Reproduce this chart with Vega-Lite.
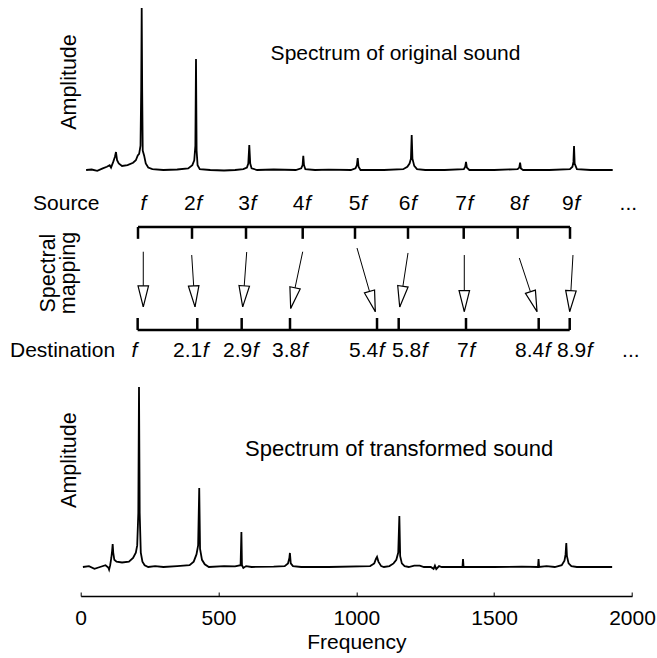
{
  "$schema": "https://vega.github.io/schema/vega-lite/v6.json",
  "width": 551.3,
  "height": 596,
  "autosize": {"type": "none"},
  "padding": {"left": 80.7, "right": 25, "top": 0, "bottom": 62},
  "background": "white",
  "config": {
    "view": {"stroke": null},
    "font": "Liberation Sans",
    "text": {"font": "Liberation Sans", "fontSize": 21, "color": "black"}
  },
  "datasets": {
    "top": [
      {"freq": 19.6, "amp": 0.0}, {"freq": 40, "amp": 0.003}, {"freq": 60, "amp": -0.005}, {"freq": 80, "amp": 0.01},
      {"freq": 95, "amp": 0.02}, {"freq": 105, "amp": 0.03}, {"freq": 110, "amp": 0.015}, {"freq": 118, "amp": 0.05},
      {"freq": 124, "amp": 0.08}, {"freq": 128, "amp": 0.111}, {"freq": 132, "amp": 0.06}, {"freq": 138, "amp": 0.04},
      {"freq": 150, "amp": 0.025}, {"freq": 170, "amp": 0.03}, {"freq": 190, "amp": 0.045}, {"freq": 200, "amp": 0.06},
      {"freq": 207, "amp": 0.09}, {"freq": 212, "amp": 0.1}, {"freq": 217, "amp": 0.15}, {"freq": 219.5, "amp": 0.5},
      {"freq": 221.3, "amp": 1.0}, {"freq": 223, "amp": 0.5}, {"freq": 225, "amp": 0.12}, {"freq": 230, "amp": 0.09},
      {"freq": 236, "amp": 0.04}, {"freq": 245, "amp": 0.015}, {"freq": 260, "amp": 0.005}, {"freq": 300, "amp": 0.0},
      {"freq": 350, "amp": 0.003}, {"freq": 390, "amp": 0.01}, {"freq": 405, "amp": 0.03}, {"freq": 412, "amp": 0.06},
      {"freq": 416, "amp": 0.15}, {"freq": 418.3, "amp": 0.685}, {"freq": 420.5, "amp": 0.12}, {"freq": 424, "amp": 0.03},
      {"freq": 432, "amp": 0.005}, {"freq": 470, "amp": 0.0}, {"freq": 520, "amp": -0.003}, {"freq": 560, "amp": 0.0},
      {"freq": 590, "amp": 0.005}, {"freq": 603, "amp": 0.015}, {"freq": 608, "amp": 0.04}, {"freq": 611.6, "amp": 0.154},
      {"freq": 615, "amp": 0.04}, {"freq": 620, "amp": 0.01}, {"freq": 640, "amp": 0.0}, {"freq": 700, "amp": 0.003},
      {"freq": 780, "amp": 0.0}, {"freq": 800, "amp": 0.01}, {"freq": 805, "amp": 0.03}, {"freq": 807.5, "amp": 0.088},
      {"freq": 810, "amp": 0.03}, {"freq": 815, "amp": 0.005}, {"freq": 850, "amp": 0.0}, {"freq": 900, "amp": 0.002},
      {"freq": 980, "amp": 0.0}, {"freq": 997, "amp": 0.01}, {"freq": 1002, "amp": 0.03}, {"freq": 1004.9, "amp": 0.074},
      {"freq": 1008, "amp": 0.02}, {"freq": 1015, "amp": 0.0}, {"freq": 1100, "amp": 0.0}, {"freq": 1170, "amp": 0.005},
      {"freq": 1185, "amp": 0.02}, {"freq": 1193, "amp": 0.04}, {"freq": 1198, "amp": 0.07}, {"freq": 1200.8, "amp": 0.216},
      {"freq": 1203.5, "amp": 0.07}, {"freq": 1210, "amp": 0.025}, {"freq": 1220, "amp": 0.005}, {"freq": 1250, "amp": 0.0},
      {"freq": 1320, "amp": 0.0}, {"freq": 1390, "amp": 0.005}, {"freq": 1395, "amp": 0.02}, {"freq": 1397.8, "amp": 0.05},
      {"freq": 1401, "amp": 0.015}, {"freq": 1410, "amp": 0.0}, {"freq": 1500, "amp": 0.0}, {"freq": 1585, "amp": 0.005},
      {"freq": 1591, "amp": 0.015}, {"freq": 1594, "amp": 0.045}, {"freq": 1597, "amp": 0.01}, {"freq": 1605, "amp": 0.0},
      {"freq": 1700, "amp": 0.0}, {"freq": 1775, "amp": 0.005}, {"freq": 1784, "amp": 0.02}, {"freq": 1787.5, "amp": 0.05},
      {"freq": 1789.7, "amp": 0.148}, {"freq": 1792, "amp": 0.04}, {"freq": 1800, "amp": 0.005}, {"freq": 1850, "amp": 0.0},
      {"freq": 1930, "amp": 0.0}
    ],
    "bottom": [
      {"freq": 8, "amp": 0.0}, {"freq": 30, "amp": 0.005}, {"freq": 50, "amp": -0.01}, {"freq": 70, "amp": 0.0},
      {"freq": 90, "amp": 0.01}, {"freq": 100, "amp": -0.003}, {"freq": 103, "amp": -0.015}, {"freq": 107, "amp": 0.01},
      {"freq": 111, "amp": 0.05}, {"freq": 114, "amp": 0.09}, {"freq": 116, "amp": 0.128}, {"freq": 118, "amp": 0.08},
      {"freq": 122, "amp": 0.04}, {"freq": 130, "amp": 0.03}, {"freq": 150, "amp": 0.025}, {"freq": 175, "amp": 0.03},
      {"freq": 190, "amp": 0.05}, {"freq": 200, "amp": 0.08}, {"freq": 205, "amp": 0.12}, {"freq": 209, "amp": 0.3},
      {"freq": 211.5, "amp": 1.0}, {"freq": 214, "amp": 0.3}, {"freq": 218, "amp": 0.08}, {"freq": 224, "amp": 0.03},
      {"freq": 232, "amp": 0.01}, {"freq": 245, "amp": 0.0}, {"freq": 270, "amp": 0.005}, {"freq": 300, "amp": 0.0},
      {"freq": 350, "amp": 0.005}, {"freq": 395, "amp": 0.01}, {"freq": 410, "amp": 0.03}, {"freq": 420, "amp": 0.07},
      {"freq": 426, "amp": 0.12}, {"freq": 430, "amp": 0.439}, {"freq": 433, "amp": 0.1}, {"freq": 440, "amp": 0.04},
      {"freq": 450, "amp": 0.015}, {"freq": 465, "amp": 0.0}, {"freq": 520, "amp": 0.005}, {"freq": 560, "amp": 0.003},
      {"freq": 580, "amp": 0.01}, {"freq": 583, "amp": 0.194}, {"freq": 585, "amp": 0.01}, {"freq": 590, "amp": -0.005},
      {"freq": 600, "amp": 0.005}, {"freq": 620, "amp": 0.0}, {"freq": 700, "amp": 0.002}, {"freq": 740, "amp": 0.005},
      {"freq": 752, "amp": 0.02}, {"freq": 757, "amp": 0.05}, {"freq": 759, "amp": 0.078}, {"freq": 762, "amp": 0.02},
      {"freq": 770, "amp": 0.005}, {"freq": 800, "amp": 0.0}, {"freq": 900, "amp": 0.0}, {"freq": 1050, "amp": 0.005},
      {"freq": 1065, "amp": 0.02}, {"freq": 1071, "amp": 0.045}, {"freq": 1075, "amp": 0.056}, {"freq": 1080, "amp": 0.03},
      {"freq": 1090, "amp": 0.005}, {"freq": 1100, "amp": 0.0}, {"freq": 1120, "amp": 0.005}, {"freq": 1135, "amp": 0.02},
      {"freq": 1145, "amp": 0.04}, {"freq": 1152, "amp": 0.08}, {"freq": 1156, "amp": 0.283}, {"freq": 1159, "amp": 0.06},
      {"freq": 1165, "amp": 0.02}, {"freq": 1175, "amp": 0.005}, {"freq": 1190, "amp": 0.0}, {"freq": 1210, "amp": 0.008},
      {"freq": 1230, "amp": 0.008}, {"freq": 1245, "amp": 0.0}, {"freq": 1270, "amp": 0.0}, {"freq": 1280, "amp": -0.01},
      {"freq": 1285, "amp": 0.008}, {"freq": 1290, "amp": -0.012}, {"freq": 1300, "amp": 0.005}, {"freq": 1310, "amp": 0.0},
      {"freq": 1385, "amp": 0.0}, {"freq": 1387, "amp": 0.044}, {"freq": 1389, "amp": 0.0}, {"freq": 1500, "amp": 0.0},
      {"freq": 1600, "amp": 0.002}, {"freq": 1659, "amp": 0.0}, {"freq": 1661, "amp": 0.044}, {"freq": 1663, "amp": 0.0},
      {"freq": 1690, "amp": 0.005}, {"freq": 1720, "amp": 0.0}, {"freq": 1745, "amp": 0.01}, {"freq": 1755, "amp": 0.035},
      {"freq": 1759, "amp": 0.07}, {"freq": 1761.6, "amp": 0.133}, {"freq": 1764, "amp": 0.06}, {"freq": 1770, "amp": 0.02},
      {"freq": 1780, "amp": 0.005}, {"freq": 1800, "amp": 0.0}, {"freq": 1928, "amp": 0.0}
    ],
    "brackets": [
      {"freq": 207.9, "freq2": 1775.1, "lvl": 1},
      {"freq": 206.6, "freq2": 1774, "lvl": 0}
    ],
    "ticks": [
      {"freq": 207.9, "lvl": 1, "lvl2": 0.885}, {"freq": 403.8, "lvl": 1, "lvl2": 0.885},
      {"freq": 599.7, "lvl": 1, "lvl2": 0.885}, {"freq": 805.4, "lvl": 1, "lvl2": 0.885},
      {"freq": 995.1, "lvl": 1, "lvl2": 0.885}, {"freq": 1187.4, "lvl": 1, "lvl2": 0.885},
      {"freq": 1389.5, "lvl": 1, "lvl2": 0.885}, {"freq": 1585.3, "lvl": 1, "lvl2": 0.885},
      {"freq": 1775.1, "lvl": 1, "lvl2": 0.885},
      {"freq": 206.6, "lvl": 0, "lvl2": 0.1165}, {"freq": 423, "lvl": 0, "lvl2": 0.1165},
      {"freq": 584, "lvl": 0, "lvl2": 0.1165}, {"freq": 759.3, "lvl": 0, "lvl2": 0.1165},
      {"freq": 1075, "lvl": 0, "lvl2": 0.1165}, {"freq": 1153.6, "lvl": 0, "lvl2": 0.1165},
      {"freq": 1397.8, "lvl": 0, "lvl2": 0.1165}, {"freq": 1661.5, "lvl": 0, "lvl2": 0.1165},
      {"freq": 1774, "lvl": 0, "lvl2": 0.1165}
    ],
    "arrows": [
      {"freq": 227, "src": 227, "lvl": 0.225, "lvl2": 0.760},
      {"freq": 414.7, "src": 402.7, "lvl": 0.225, "lvl2": 0.728},
      {"freq": 587.7, "src": 602.2, "lvl": 0.225, "lvl2": 0.757},
      {"freq": 761.8, "src": 805.4, "lvl": 0.210, "lvl2": 0.760},
      {"freq": 1068.8, "src": 1002.4, "lvl": 0.178, "lvl2": 0.796},
      {"freq": 1157.3, "src": 1187.4, "lvl": 0.223, "lvl2": 0.748},
      {"freq": 1391.6, "src": 1391.6, "lvl": 0.178, "lvl2": 0.728},
      {"freq": 1655.4, "src": 1591.1, "lvl": 0.178, "lvl2": 0.699},
      {"freq": 1774, "src": 1785.9, "lvl": 0.178, "lvl2": 0.728}
    ],
    "labels": [
      {"num": "", "freq": 215.1, "lvl": 1.223}, {"num": "2", "freq": 417, "lvl": 1.223},
      {"num": "3", "freq": 614, "lvl": 1.223}, {"num": "4", "freq": 811.5, "lvl": 1.223},
      {"num": "5", "freq": 1014.7, "lvl": 1.223}, {"num": "6", "freq": 1196, "lvl": 1.223},
      {"num": "7", "freq": 1401.4, "lvl": 1.223}, {"num": "8", "freq": 1598.8, "lvl": 1.223},
      {"num": "9", "freq": 1788.5, "lvl": 1.223},
      {"num": "", "freq": 182.5, "lvl": -0.204}, {"num": "2.1", "freq": 440.8, "lvl": -0.204},
      {"num": "2.9", "freq": 622.2, "lvl": -0.204}, {"num": "3.8", "freq": 800, "lvl": -0.204},
      {"num": "5.4", "freq": 1079.3, "lvl": -0.204}, {"num": "5.8", "freq": 1235.3, "lvl": -0.204},
      {"num": "7", "freq": 1407.6, "lvl": -0.204}, {"num": "8.4", "freq": 1681.5, "lvl": -0.204},
      {"num": "8.9", "freq": 1833.8, "lvl": -0.204}
    ],
    "words": [
      {"t": "Source", "freq": -173, "lvl": 1.223},
      {"t": "Destination", "freq": -256.5, "lvl": -0.204},
      {"t": "...", "freq": 1955, "lvl": 1.223},
      {"t": "...", "freq": 1964, "lvl": -0.204}
    ]
  },
  "encoding": {
    "x": {
      "field": "freq",
      "type": "quantitative",
      "title": "Frequency",
      "scale": {"domain": [0, 2000], "nice": false, "zero": false},
      "axis": {
        "values": [0, 500, 1000, 1500, 2000],
        "format": "d",
        "grid": false,
        "domainColor": "black",
        "domainWidth": 1.5,
        "tickColor": "black",
        "tickSize": -4,
        "tickWidth": 1,
        "labelFont": "Liberation Sans",
        "labelFontSize": 21,
        "labelColor": "black",
        "labelPadding": 15,
        "labelFlush": false,
        "labelOverlap": false,
        "titleFont": "Liberation Sans",
        "titleFontSize": 21,
        "titleFontWeight": "normal",
        "titleColor": "black",
        "titlePadding": 3
      }
    }
  },
  "resolve": {"scale": {"y": "independent"}, "axis": {"y": "independent"}},
  "layer": [
    {
      "encoding": {
        "y": {"field": "amp", "type": "quantitative", "scale": {"domain": [-2.630, 1.0495], "nice": false, "zero": false}, "axis": null}
      },
      "layer": [
        {"data": {"name": "top"}, "mark": {"type": "line", "color": "black", "strokeWidth": 1.8}},
        {
          "data": {"values": [{"freq": 689, "amp": 0.716, "t": "Spectrum of original sound"}]},
          "mark": {"type": "text", "align": "left", "baseline": "middle", "fontSize": 21},
          "encoding": {"text": {"field": "t"}}
        },
        {
          "data": {"values": [{"freq": -38.8, "amp": 0.543, "t": "Amplitude"}]},
          "mark": {"type": "text", "align": "center", "baseline": "middle", "angle": 270, "fontSize": 21.5},
          "encoding": {"text": {"field": "t"}}
        }
      ]
    },
    {
      "encoding": {
        "y": {"field": "lvl", "type": "quantitative", "scale": {"domain": [-2.5825, 3.2039], "nice": false, "zero": false}, "axis": null}
      },
      "layer": [
        {
          "data": {"name": "brackets"},
          "mark": {"type": "rule", "color": "black", "strokeWidth": 2.5},
          "encoding": {"x2": {"field": "freq2"}}
        },
        {
          "data": {"name": "ticks"},
          "mark": {"type": "rule", "color": "black", "strokeWidth": 2.5},
          "encoding": {"y2": {"field": "lvl2"}}
        },
        {
          "data": {"name": "arrows"},
          "mark": {"type": "rule", "color": "black", "strokeWidth": 1},
          "encoding": {"x2": {"field": "src"}, "y2": {"field": "lvl2"}}
        },
        {
          "data": {"name": "arrows"},
          "transform": [
            {"calculate": "-atan2((datum.freq - datum.src) * 0.27565, (datum.lvl2 - datum.lvl) * 103) * 180 / PI", "as": "ang"}
          ],
          "mark": {"type": "point", "shape": "M-0.5,-2L0.5,-2L0,0Z", "size": 441, "filled": true, "fill": "white", "stroke": "black", "strokeWidth": 1.2, "opacity": 1},
          "encoding": {"angle": {"field": "ang", "type": "quantitative", "scale": null}}
        },
        {
          "data": {"name": "labels"},
          "mark": {"type": "text", "align": "right", "baseline": "middle"},
          "encoding": {"text": {"field": "num"}}
        },
        {
          "data": {"name": "labels"},
          "mark": {"type": "text", "align": "left", "baseline": "middle", "fontStyle": "italic", "text": "f", "dx": 0.5}
        },
        {
          "data": {"name": "words"},
          "mark": {"type": "text", "align": "left", "baseline": "middle"},
          "encoding": {"text": {"field": "t"}}
        },
        {
          "data": {"values": [{"freq": -115, "lvl": 0.553}]},
          "mark": {"type": "text", "align": "center", "baseline": "middle", "angle": 270, "lineHeight": 20, "fontSize": 21.5, "text": ["Spectral", "mapping"]}
        }
      ]
    },
    {
      "encoding": {
        "y": {"field": "amp", "type": "quantitative", "scale": {"domain": [-0.16112, 3.1501], "nice": false, "zero": false}, "axis": null}
      },
      "layer": [
        {"data": {"name": "bottom"}, "mark": {"type": "line", "color": "black", "strokeWidth": 1.8}},
        {
          "data": {"values": [{"freq": 596, "amp": 0.656, "t": "Spectrum of transformed sound"}]},
          "mark": {"type": "text", "align": "left", "baseline": "middle", "fontSize": 22},
          "encoding": {"text": {"field": "t"}}
        },
        {
          "data": {"values": [{"freq": -38.8, "amp": 0.594, "t": "Amplitude"}]},
          "mark": {"type": "text", "align": "center", "baseline": "middle", "angle": 270, "fontSize": 21.5},
          "encoding": {"text": {"field": "t"}}
        }
      ]
    }
  ]
}
